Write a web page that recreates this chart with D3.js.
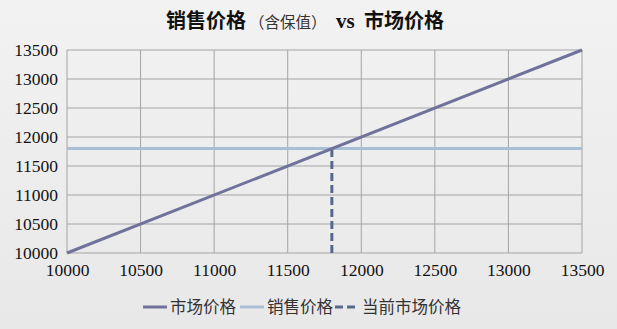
<!DOCTYPE html>
<html>
<head>
<meta charset="utf-8">
<script src="https://cdn.jsdelivr.net/npm/d3@7"></script>
<style>
  body { margin: 0; background: #efeeee; }
  svg { display: block; }
  .tick text { font-family: 'Liberation Serif', serif; font-size: 17.5px; fill: #111; }
</style>
</head>
<body>
<div id="chart"></div>
<script>
// chart values
var ticks = [10000, 10500, 11000, 11500, 12000, 12500, 13000, 13500];
var marketX = [10000, 13500];
var marketY = [10000, 13500];
var salePrice = 11800;
var currentMarket = 11800;
var legendLabels = ["市场价格", "销售价格", "当前市场价格"];

var svg_width = 617, svg_height = 329;
var margin = {top: 50, right: 35, bottom: 76, left: 67};
var width = svg_width - margin.left - margin.right;
var height = svg_height - margin.top - margin.bottom;

var svg = d3.select("#chart").append("svg")
  .attr("width", svg_width)
  .attr("height", svg_height);

var defs = svg.append("defs");
var grad = defs.append("linearGradient").attr("id", "bg")
  .attr("x1", 0).attr("y1", 0).attr("x2", 0).attr("y2", 1);
grad.append("stop").attr("offset", "0%").attr("stop-color", "#f3f2f2");
grad.append("stop").attr("offset", "100%").attr("stop-color", "#e9e8e9");
svg.append("rect").attr("width", svg_width).attr("height", svg_height).attr("fill", "url(#bg)");

var g = svg.append("g").attr("transform", `translate(${margin.left},${margin.top})`);

var x = d3.scaleLinear().domain([10000, 13500]).range([0, width]);
var y = d3.scaleLinear().domain([10000, 13500]).range([height, 0]);

// grid
g.selectAll(".vgrid").data(ticks).enter().append("line")
  .attr("x1", d => x(d)).attr("x2", d => x(d))
  .attr("y1", 0).attr("y2", height)
  .attr("stroke", "#a4a4a4").attr("stroke-width", 1);
g.selectAll(".hgrid").data(ticks).enter().append("line")
  .attr("x1", 0).attr("x2", width)
  .attr("y1", d => y(d)).attr("y2", d => y(d))
  .attr("stroke", "#a4a4a4").attr("stroke-width", 1);

// axes
var xAxis = g.append("g").attr("transform", `translate(0,${height})`)
  .call(d3.axisBottom(x).tickValues(ticks).tickSize(0).tickPadding(11).tickFormat(d3.format("d")));
var yAxis = g.append("g")
  .call(d3.axisLeft(y).tickValues(ticks).tickSize(0).tickPadding(9).tickFormat(d3.format("d")));
xAxis.select(".domain").remove();
yAxis.select(".domain").remove();

// lines
var line = d3.line().x(d => x(d[0])).y(d => y(d[1]));

g.append("path")
  .datum([[10000, salePrice], [13500, salePrice]])
  .attr("d", line).attr("fill", "none")
  .attr("stroke", "#a9bfd6").attr("stroke-width", 3);

g.append("path")
  .datum([[currentMarket, 10000], [currentMarket, salePrice]])
  .attr("d", line).attr("fill", "none")
  .attr("stroke", "#56698a").attr("stroke-width", 3)
  .attr("stroke-dasharray", "8,4");

g.append("path")
  .datum(marketX.map((v, i) => [v, marketY[i]]))
  .attr("d", line).attr("fill", "none")
  .attr("stroke", "#71729c").attr("stroke-width", 3);

// title
var title = svg.append("text").attr("y", 28).attr("fill", "#111");
title.append("tspan").attr("x", 166)
  .attr("font-family", "'Noto Sans CJK SC'").attr("font-weight", "bold").attr("font-size", 20)
  .text("销售价格");
title.append("tspan").attr("x", 249)
  .attr("font-family", "'Noto Sans CJK SC'").attr("font-size", 15.5)
  .attr("fill", "#333")
  .text("（含保值）");
title.append("tspan").attr("x", 336)
  .attr("font-family", "'Liberation Serif', serif").attr("font-weight", "bold").attr("font-size", 21)
  .text("vs");
title.append("tspan").attr("x", 364)
  .attr("font-family", "'Noto Sans CJK SC'").attr("font-weight", "bold").attr("font-size", 20)
  .text("市场价格");

// legend
var legendItems = [
  {x: 143, label: legendLabels[0], color: "#71729c", dash: null},
  {x: 240, label: legendLabels[1], color: "#a9bfd6", dash: null},
  {x: 335, label: legendLabels[2], color: "#56698a", dash: "8,4"}
];
var legend = svg.append("g").attr("transform", "translate(0,307)");
legendItems.forEach(function(d) {
  legend.append("line")
    .attr("x1", d.x).attr("x2", d.x + 24)
    .attr("y1", 0).attr("y2", 0)
    .attr("stroke", d.color).attr("stroke-width", 3)
    .attr("stroke-dasharray", d.dash);
  legend.append("text")
    .attr("x", d.x + 27).attr("y", 6)
    .attr("font-family", "'Noto Sans CJK SC'")
    .attr("font-size", 16.5)
    .attr("fill", "#333")
    .text(d.label);
});
</script>
</body>
</html>
